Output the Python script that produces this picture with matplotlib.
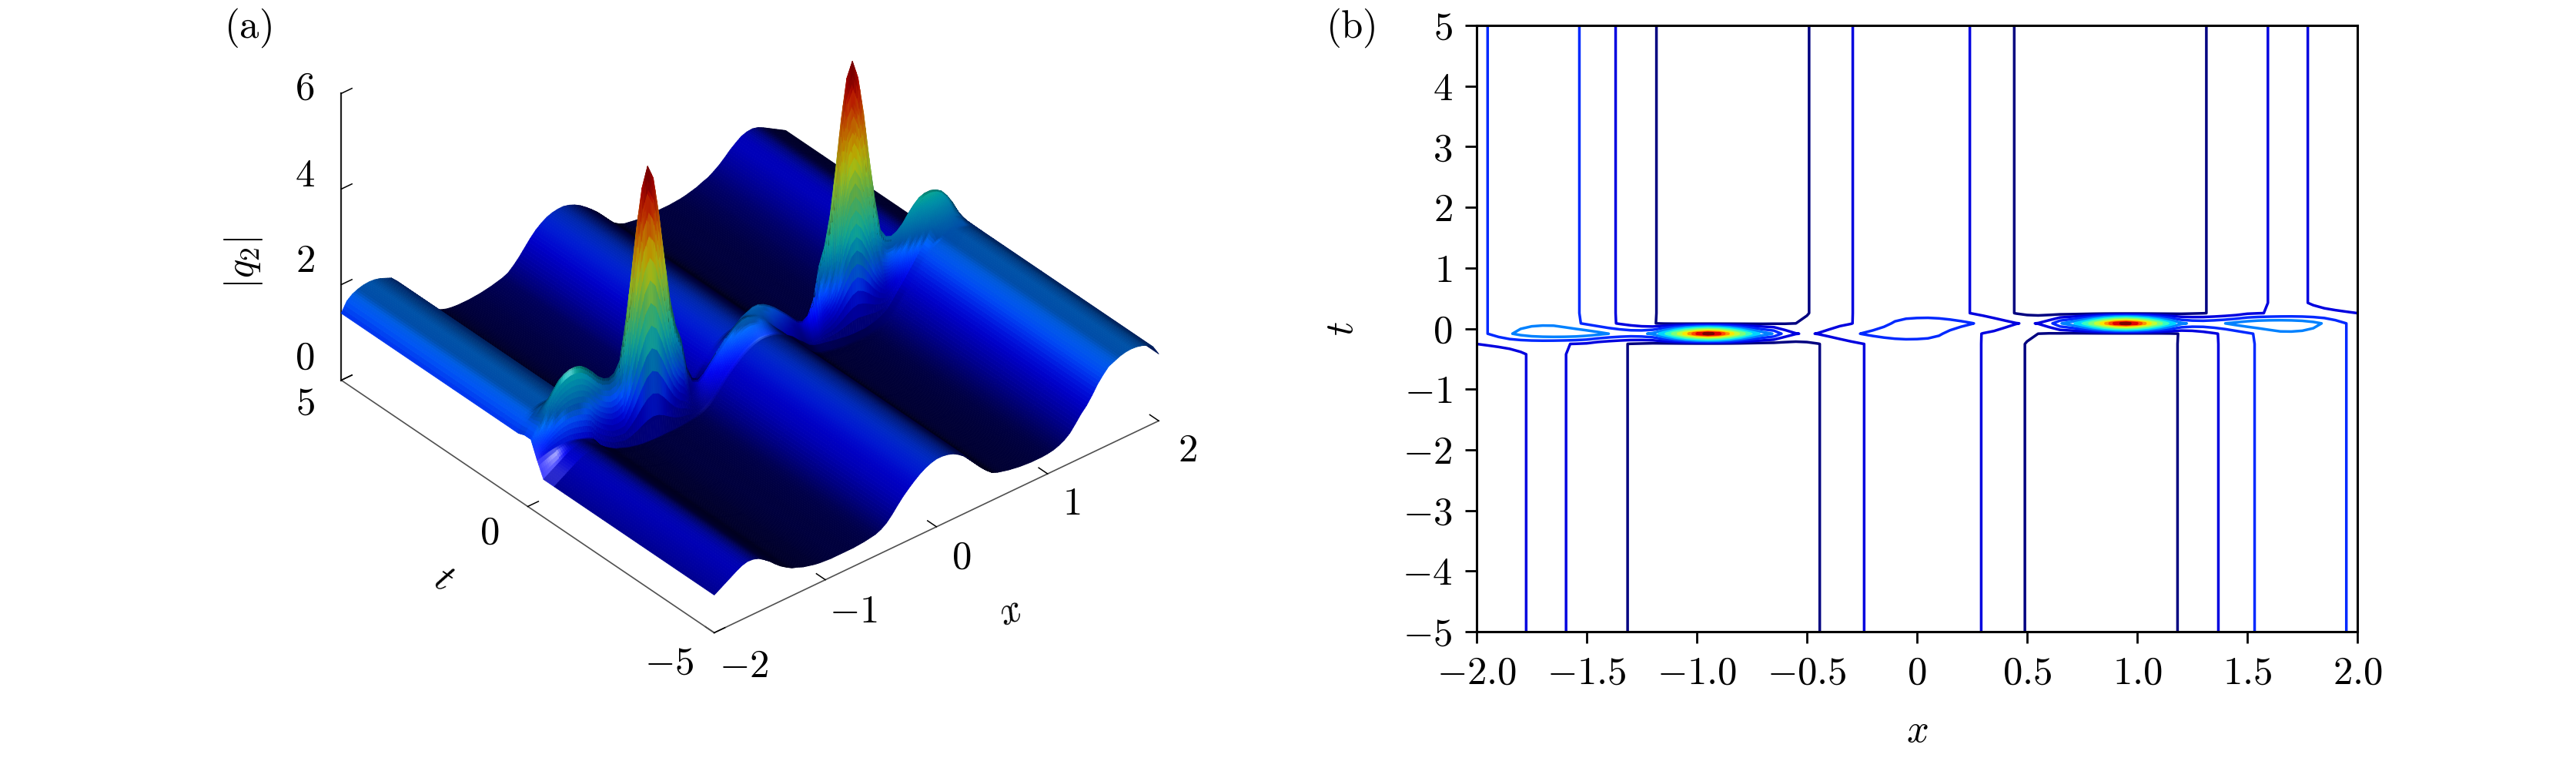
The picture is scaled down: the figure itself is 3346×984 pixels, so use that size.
import numpy as np
import matplotlib
matplotlib.use("Agg")
import matplotlib.pyplot as plt

plt.rcParams["mathtext.fontset"] = "cm"
plt.rcParams["font.family"] = "cmr10"
plt.rcParams["axes.formatter.use_mathtext"] = True

# x samples, -2 to 2 in steps of 0.05
x_vals = [round(-2 + 0.05 * i, 2) for i in range(81)]
t_rows = [-5, -0.424, -0.254, -0.085, 0.085, 0.254, 0.424, 5]

# |q2|, far from t = 0 (t > 0 side)
row_far = [1.40, 1.60, 1.69, 1.74, 1.77, 1.78, 1.77, 1.74, 1.69, 1.64,
           1.52, 1.38, 1.20, 1.04, 0.92, 0.77, 0.63, 0.54, 0.48, 0.44,
           0.42, 0.41, 0.41, 0.41, 0.42, 0.43, 0.45, 0.47, 0.50, 0.53,
           0.58, 0.68, 0.80, 0.94, 1.08, 1.20, 1.29, 1.36, 1.40, 1.42,
           1.42, 1.39, 1.34, 1.27, 1.18, 1.08, 0.97, 0.84, 0.70, 0.58,
           0.50, 0.45, 0.43, 0.41, 0.40, 0.39, 0.39, 0.39, 0.39, 0.39,
           0.40, 0.41, 0.43, 0.46, 0.49, 0.54, 0.58, 0.65, 0.73, 0.83,
           0.94, 1.03, 1.11, 1.15, 1.16, 1.13, 1.07, 1.00, 0.93, 0.86,
           0.79]
# row t = 0.254: same as far field except near the right edge
row_mid = row_far[:70] + [1.02, 1.08, 1.12, 1.16, 1.19, 1.20, 1.20, 1.19, 1.17, 1.14, 1.10]
# row t = 0.085: carries the peak at x = 0.95
row_near = [1.45, 1.60, 1.72, 1.85, 1.93, 1.98, 2.00, 1.98, 1.85, 1.67,
            1.52, 1.36, 1.20, 1.05, 0.90, 0.75, 0.62, 0.55, 0.50, 0.47,
            0.45, 0.45, 0.45, 0.46, 0.48, 0.50, 0.52, 0.55, 0.57, 0.60,
            0.66, 0.78, 0.88, 1.00, 1.08, 1.22, 1.35, 1.50, 1.65, 1.75,
            1.80, 1.85, 1.85, 1.80, 1.72, 1.62, 1.50, 1.38, 1.25, 1.12,
            1.05, 1.12, 1.40, 2.05, 2.40, 3.00, 3.90, 4.90, 5.70, 6.00,
            5.60, 4.80, 3.80, 2.90, 2.20, 2.00, 1.95, 2.00, 2.10, 2.25,
            2.38, 2.48, 2.52, 2.52, 2.48, 2.40, 2.25, 2.05, 1.80, 1.60,
            1.45]

contour_levels = [0.6, 1.1, 1.6, 2.1, 2.6, 3.1, 3.6, 4.1, 4.6, 5.0, 5.3, 5.6, 5.85]

x_ticks_a = [-2, -1, 0, 1, 2]
t_ticks_a = [-5, 0, 5]
z_ticks_a = [0, 2, 4, 6]
x_ticks_b = [-2.0, -1.5, -1.0, -0.5, 0, 0.5, 1.0, 1.5, 2.0]
x_ticklabels_b = ["$-2.0$", "$-1.5$", "$-1.0$", "$-0.5$", "$0$", "$0.5$", "$1.0$", "$1.5$", "$2.0$"]
t_ticks_b = [-5, -4, -3, -2, -1, 0, 1, 2, 3, 4, 5]

x = np.array(x_vals)
t = np.array(t_rows)
# the field has the symmetry q(x, t) = q(-x, -t), so the t < 0 rows mirror the t > 0 rows
upper = [row_near, row_mid, row_far, row_far]
Z = np.array([r[::-1] for r in upper[::-1]] + upper)

W, H = 3346, 984
FS = 18.3
fig = plt.figure(figsize=(W / 200, H / 200), dpi=200)


def ptext(px, py, s, **kw):
    # text placed in picture pixels
    kw.setdefault("ha", "center")
    kw.setdefault("va", "center")
    return fig.text(px / W, 1 - py / H, s, fontsize=FS, **kw)


# ---- (a) surface
S = 1124
ax = fig.add_axes([397 / W, (H - 911) / H, S / W, S / H], projection="3d", proj_type="ortho")
ax.set_box_aspect((1, 1, 0.6))
ax.view_init(elev=34.6, azim=-130)

# finer mesh so that colour follows height along the steep t intervals
t_mesh = np.concatenate([np.linspace(-5, -1, 5)[:-1], np.linspace(-1, -0.424, 3)[:-1],
                         np.linspace(-0.424, -0.254, 5)[:-1], np.linspace(-0.254, -0.085, 13)[:-1],
                         np.linspace(-0.085, 0.085, 21)[:-1], np.linspace(0.085, 0.254, 13)[:-1],
                         np.linspace(0.254, 0.424, 5)[:-1], np.linspace(0.424, 1, 3)[:-1],
                         np.linspace(1, 5, 5)])
Zm = np.array([np.interp(t_mesh, t, Z[:, j]) for j in range(len(x))]).T
Xc, _ = np.meshgrid(x, t_mesh)

# lighting by hand, to get the dark troughs and lit flanks
dz_dt, dz_dx = np.gradient(Zm, t_mesh, x)
n = np.dstack([-0.4 * dz_dx, -1.0 * dz_dt, np.ones_like(Zm)])
n /= np.linalg.norm(n, axis=2, keepdims=True)
light = np.array([-0.65, -0.65, 0.38])
light /= np.linalg.norm(light)
half = np.array([-0.15, -0.75, 0.62])
half /= np.linalg.norm(half)
diff = np.clip(n @ light, 0, 1)
spec = np.clip(n @ half, 0, 1) ** 50
spec = spec * (Zm < 2.7) * (Xc < 0.2)
bright = 0.17 + 0.8 * diff + 0.2 * np.clip((Zm - 1.0) / 0.5, 0, 1)
bright = np.where(Zm > 1.7, np.minimum(bright, 0.66), bright)
bright = np.maximum(bright, 0.74 * np.clip((Zm - 2.6) / 1.0, 0, 1))
rgb = plt.get_cmap("jet")(np.clip((Zm - 0.4) / 5.6, 0, 1))[..., :3]
rgb = np.clip(rgb * bright[..., None] + 0.7 * spec[..., None], 0, 1)

# same values on a denser x mesh, colours blended between the samples
x_mesh = np.linspace(-2, 2, 241)
Zf = np.array([np.interp(x_mesh, x, row) for row in Zm])
rgbf = np.dstack([np.array([np.interp(x_mesh, x, row) for row in rgb[..., c]]) for c in range(3)])
fc = (rgbf[:-1, :-1] + rgbf[1:, :-1] + rgbf[:-1, 1:] + rgbf[1:, 1:]) / 4
Xg, Tg = np.meshgrid(x_mesh, t_mesh)
ax.plot_surface(Xg, Tg, Zf, facecolors=fc, rstride=1, cstride=1, linewidth=0.3, antialiased=True, shade=False)

ax.set_xlim(-2, 2)
ax.set_ylim(-5, 5)
ax.set_zlim(0, 6)
ax.set_xticks(x_ticks_a)
ax.set_yticks(t_ticks_a)
ax.set_zticks(z_ticks_a)
ax.set_xticklabels([])
ax.set_yticklabels([])
ax.set_zticklabels([])
ax.grid(False)
ax.patch.set_alpha(0)
for a in (ax.xaxis, ax.yaxis, ax.zaxis):
    a.set_pane_color((1, 1, 1, 0))
    a.pane.set_edgecolor((1, 1, 1, 0))
    a.line.set_color("#505050")
    a.line.set_linewidth(0.6)
    a._axinfo["tick"]["inward_factor"] = 0.0
    a._axinfo["tick"]["outward_factor"] = 0.3
    a._axinfo["tick"]["linewidth"] = {True: 0.55, False: 0.5}
    a._axinfo["tick"]["color"] = "#606060"
ax.zaxis.line.set_color("#202020")
ax.zaxis.line.set_linewidth(0.8)

# tick labels of the 3d axes, placed where the reference has them
for v, pos in zip(z_ticks_a, [(396, 466), (396, 340), (396, 229), (396, 116)]):
    ptext(pos[0], pos[1], "$%d$" % v)
for v, pos in zip(t_ticks_a, [(869, 862), (636, 693), (396, 525)]):
    ptext(pos[0], pos[1], "$%d$" % v)
for v, pos in zip(x_ticks_a, [(966, 866), (1108, 795), (1249, 725), (1392, 655), (1542, 586)]):
    ptext(pos[0], pos[1], "$%d$" % v)

ptext(322, 36, r"$\mathrm{(a)}$")
ptext(316, 341, r"$|q_2|$", rotation=90)
ptext(576, 752, r"$t$", rotation=-35)
ptext(1312, 795, r"$x$", rotation=20)

# ---- (b) contours
bx = fig.add_axes([1918 / W, (H - 820) / H, (3062 - 1918) / W, (820 - 33) / H])
nl = len(contour_levels)
colors_b = [plt.get_cmap("jet")(i / (nl - 1)) for i in range(nl)]
bx.contour(x, t, Z, levels=contour_levels, colors=colors_b, linewidths=1.25)
bx.set_xlim(-2, 2)
bx.set_ylim(-5, 5)
bx.set_xticks(x_ticks_b)
bx.set_xticklabels(x_ticklabels_b)
bx.set_yticks(t_ticks_b)
bx.set_yticklabels(["$%d$" % v for v in t_ticks_b])
bx.tick_params(labelsize=FS, length=5.3, width=1.0, pad=6)
for s in bx.spines.values():
    s.set_linewidth(1.1)
bx.set_xlabel("$x$", fontsize=FS, va="center")
bx.set_ylabel("$t$", fontsize=FS, va="center")
bx.xaxis.set_label_coords(0.5, -0.165)
bx.yaxis.set_label_coords(-0.152, 0.5)
ptext(1754, 36, r"$\mathrm{(b)}$")

fig.savefig("out.png", dpi=200)
